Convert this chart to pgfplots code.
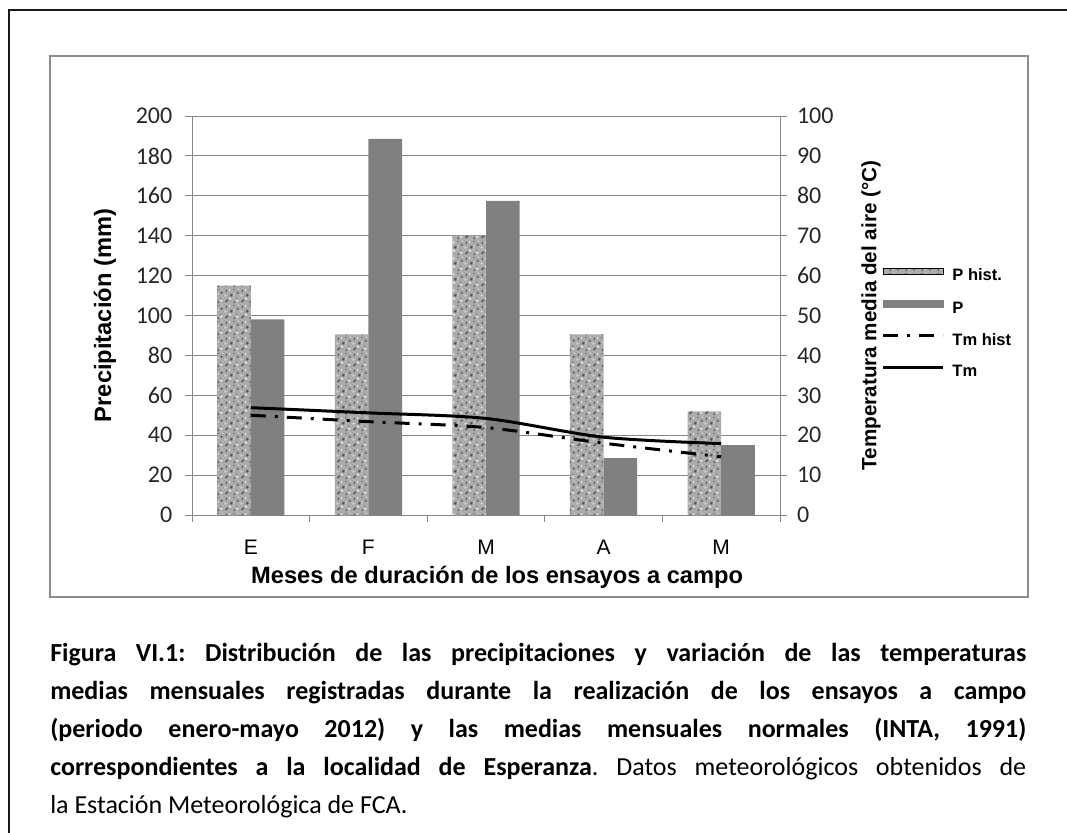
\documentclass[border=0pt]{standalone}
\usepackage{fontspec}
\setmainfont{Carlito}
\newfontfamily\arialfont{Liberation Sans}
\usepackage{pgfplots}
\usepackage{pgfplotstable}
\pgfplotsset{compat=1.18}
\usetikzlibrary{patterns}
\frenchspacing

\definecolor{axisgray}{HTML}{868686}
\definecolor{framegray}{HTML}{8C8C8C}
\definecolor{bargray}{HTML}{808080}
\definecolor{granitebase}{HTML}{ABABAB}
\definecolor{granitedark}{HTML}{5E5E5E}
\definecolor{granitelight}{HTML}{E4E4E4}

% mottled stone texture built from two blob layers
\pgfdeclarepatternformonly{granite dark}{\pgfqpoint{-1pt}{-1pt}}{\pgfqpoint{13pt}{13pt}}{\pgfqpoint{12pt}{12pt}}{%
  \pgfpathellipse{\pgfqpoint{2.1pt}{2.4pt}}{\pgfqpoint{1.4pt}{0.4pt}}{\pgfqpoint{0.2pt}{1.0pt}}
  \pgfpathcircle{\pgfqpoint{7.8pt}{1.4pt}}{0.8pt}
  \pgfpathellipse{\pgfqpoint{5.4pt}{6.6pt}}{\pgfqpoint{1.2pt}{0.6pt}}{\pgfqpoint{-0.4pt}{1.1pt}}
  \pgfpathcircle{\pgfqpoint{10.2pt}{8.4pt}}{0.9pt}
  \pgfpathcircle{\pgfqpoint{1.8pt}{9.9pt}}{0.8pt}
  \pgfpathcircle{\pgfqpoint{7.5pt}{10.8pt}}{0.6pt}
  \pgfpathcircle{\pgfqpoint{9.6pt}{4.2pt}}{0.5pt}
  \pgfusepath{fill}}
\pgfdeclarepatternformonly{granite light}{\pgfqpoint{-1pt}{-1pt}}{\pgfqpoint{13pt}{13pt}}{\pgfqpoint{12pt}{12pt}}{%
  \pgfpathcircle{\pgfqpoint{4.5pt}{3.9pt}}{1.0pt}
  \pgfpathellipse{\pgfqpoint{9.9pt}{2.4pt}}{\pgfqpoint{0.5pt}{1.0pt}}{\pgfqpoint{1.0pt}{0pt}}
  \pgfpathcircle{\pgfqpoint{1.2pt}{6.3pt}}{0.8pt}
  \pgfpathcircle{\pgfqpoint{4.2pt}{10.2pt}}{0.9pt}
  \pgfpathcircle{\pgfqpoint{7.8pt}{7.5pt}}{0.6pt}
  \pgfpathcircle{\pgfqpoint{10.8pt}{11.1pt}}{0.5pt}
  \pgfusepath{fill}}

\tikzset{granite/.style={fill=granitebase,
  postaction={pattern=granite dark, pattern color=granitedark},
  postaction={pattern=granite light, pattern color=granitelight}}}

% monthly precipitation (mm) and mean air temperature (degC)
\pgfplotstableread{
x phist p     tmhist tm
0 115   98    25.0   26.9
1 90.5  188.5 23.4   25.6
2 140   157.5 21.9   24.2
3 90.5  28.5  18.0   19.5
4 52    35    14.6   17.9
}\climatedata

\pgfplotsset{
  common/.style={
    at={(144pt,-386.25pt)}, anchor=south west,
    scale only axis, width=441pt, height=299.25pt,
    xmin=-0.5, xmax=4.5,
    tick align=outside, major tick length=5.25pt,
    tick style={axisgray, line width=0.75pt},
    axis line style={axisgray, line width=0.75pt},
    /pgf/number format/assume math mode=true,
  }
}

\begin{document}
\begin{tikzpicture}
\path[use as bounding box] (0,0) rectangle (800.25pt,-624pt);
% page border
\draw[line width=1.5pt, black!90] (6.75pt,-640pt) -- (6.75pt,-7.5pt) -- (820pt,-7.5pt);
% chart area frame
\draw[line width=1.5pt, framegray] (37.5pt,-42pt) rectangle (771pt,-447.75pt);

\begin{axis}[common,
  ymin=0, ymax=200,
  axis x line*=bottom, axis y line*=left,
  xtick={-0.5,0.5,...,4.5}, xticklabels={},
  extra x ticks={0,1,2,3,4}, extra x tick labels={E,F,M,A,M},
  extra x tick style={major tick length=0pt},
  xticklabel style={font=\arialfont\fontsize{15.75}{18}\selectfont, yshift=-15pt},
  ytick={0,20,...,200},
  yticklabel style={font=\fontsize{18}{21}\selectfont, text=black!85, xshift=-6pt},
  ymajorgrids, grid style={axisgray, line width=0.75pt},
  xlabel={Meses de duración de los ensayos a campo},
  ylabel={Precipitación (mm)},
  every axis x label/.style={at={(axis description cs:0.519,-0.155)}, anchor=center,
    font=\arialfont\bfseries\fontsize{17.75}{20}\selectfont},
  every axis y label/.style={at={(axis description cs:-0.148,0.5)}, rotate=90, anchor=center,
    font=\arialfont\bfseries\fontsize{17.75}{20}\selectfont},
]
\addplot[ybar, bar width=0.2857, bar shift=-0.1429, draw=none, granite]
  table[x=x, y=phist]{\climatedata};
\addplot[ybar, bar width=0.2857, bar shift=0.1429, draw=none, fill=bargray]
  table[x=x, y=p]{\climatedata};
\end{axis}

\begin{axis}[common,
  ymin=0, ymax=100,
  axis y line*=right, axis x line=none,
  ytick={0,10,...,100},
  yticklabel style={font=\fontsize{18}{21}\selectfont, text=black!85, xshift=4pt},
  ylabel={Temperatura media del aire (°C)},
  every axis y label/.style={at={(axis description cs:1.1548,0.5)}, rotate=90, anchor=center,
    font=\arialfont\bfseries\fontsize{15.5}{18}\selectfont},
  legend image code/.code={\draw[#1] (0pt,4pt) -- (45pt,4pt);},
  legend cell align=left,
  legend style={at={(axis description cs:1.172,0.478)}, anchor=west,
    draw=none, fill=none, inner sep=0pt, row sep=11.8pt,
    font=\arialfont\bfseries\fontsize{12.4}{14}\selectfont,
    nodes={inner sep=0pt, text height=9pt, text depth=3pt},
    /tikz/every odd column/.append style={column sep=6pt}},
]
\addlegendimage{legend image code/.code={\fill[granite] (0pt,1.5pt) rectangle (45pt,6.5pt);}}
\addlegendentry{P hist.}
\addlegendimage{legend image code/.code={\fill[bargray] (0pt,1.5pt) rectangle (45pt,6.5pt);}}
\addlegendentry{P}
\addplot[black, line width=2.25pt, smooth,
  dash pattern=on 11.25pt off 6.75pt on 2.25pt off 6.75pt]
  table[x=x, y=tmhist]{\climatedata};
\addlegendentry{Tm hist}
\addplot[black, line width=2.25pt, smooth]
  table[x=x, y=tm]{\climatedata};
\addlegendentry{Tm}
\end{axis}

% figure caption
\begin{scope}[every node/.style={anchor=base west, inner sep=0pt,
    font=\fontsize{19.5}{23}\selectfont}]
\node at (37.5pt,-495.75pt) {\hbox to 732pt{\bfseries Figura VI.1: Distribución de las precipitaciones y variación de las temperaturas}};
\node at (37.5pt,-524.25pt) {\hbox to 732pt{\bfseries medias mensuales registradas durante la realización de los ensayos a campo}};
\node at (37.5pt,-552.75pt) {\hbox to 732pt{\bfseries (periodo enero-mayo 2012) y las medias mensuales normales (INTA, 1991)}};
\node at (37.5pt,-581.25pt) {\hbox to 732pt{{\bfseries correspondientes a la localidad de Esperanza}. Datos meteorológicos obtenidos de}};
\node at (37.5pt,-609.75pt) {la Estación Meteorológica de FCA.};
\end{scope}
\end{tikzpicture}
\end{document}
